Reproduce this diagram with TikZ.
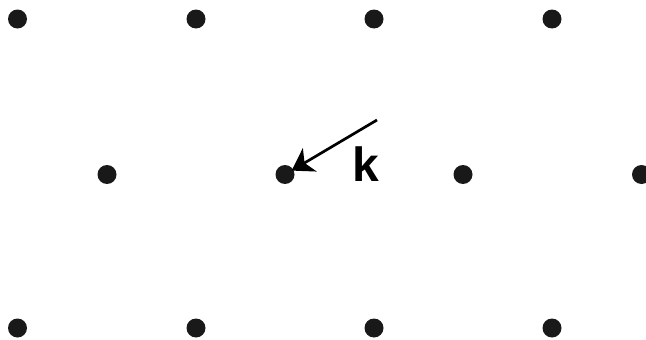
\documentclass[tikz,border=0pt]{standalone}
\usepackage{fontspec}
\setmainfont{Liberation Sans}
\usetikzlibrary{arrows.meta}
\begin{document}
\begin{tikzpicture}[x=1pt,y=-1pt,
  dot/.style={circle,fill=black!90,inner sep=0pt,minimum size=19pt},
  arr/.style={line width=2.7pt,-{Stealth[length=21pt,width=27pt,inset=6pt]},shorten >=-2pt}]
\useasboundingbox (0,0) rectangle (646,340);
\foreach \x [count=\i] in {17.5,196,374,552} {
  \node[dot] (t\i) at (\x,19) {};
  \node[dot] (b\i) at (\x,328) {};
}
\foreach \x [count=\i] in {107,285,463,641.5} {
  \node[dot] (m\i) at (\x,174.5) {};
}
\coordinate (s) at (377,120);
\draw[arr] (s) -- (m2);
\node[anchor=base,inner sep=0pt,font=\bfseries\fontsize{48}{48}\selectfont] (k) at (365.5,181.7) {k};
\end{tikzpicture}
\end{document}
